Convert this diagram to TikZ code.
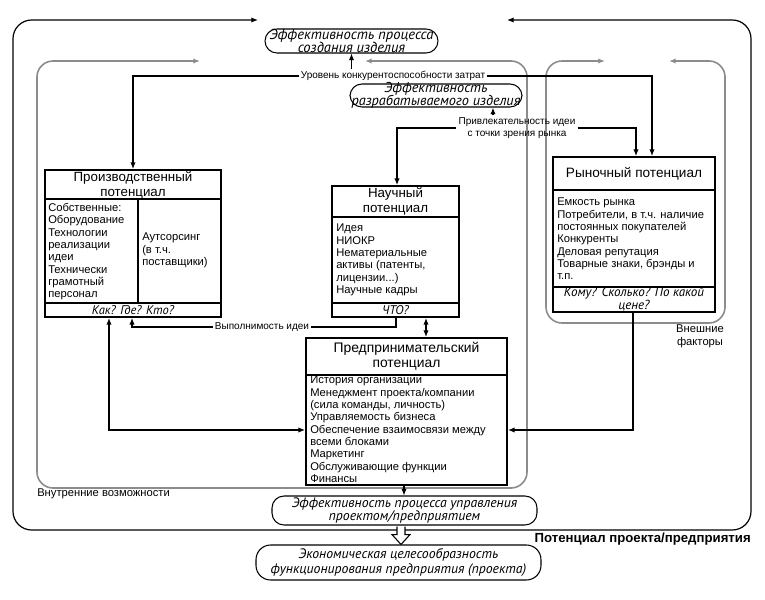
\documentclass[tikz,border=0pt]{standalone}
\usepackage{fontspec}
\setmainfont{Liberation Sans}
\newfontfamily\itf{PT Sans}
\usetikzlibrary{arrows.meta,fit,calc}
\begin{document}
\begin{tikzpicture}[x=0.75pt,y=-0.75pt,
  >={Latex[length=5pt,width=4pt]},
  frame/.style={line width=0.9pt, black, rounded corners=14pt},
  gframe/.style={line width=1.2pt, black!45, rounded corners=12pt},
  box/.style={draw, line width=1.4pt, inner sep=0pt},
  sep/.style={line width=1.2pt},
  hdr/.style={font=\fontsize{10}{11.4}\selectfont, align=center, inner sep=0pt},
  body/.style={font=\fontsize{8.4}{9.25}\selectfont, align=left, inner sep=0pt, anchor=north west},
  foot/.style={font=\itf\itshape\fontsize{9.4}{9.4}\selectfont, align=center, inner sep=0pt},
  lbl/.style={font=\fontsize{7.5}{9}\selectfont, align=center, inner sep=1.5pt},
  note/.style={font=\fontsize{8.4}{9.6}\selectfont, align=center, inner sep=0pt},
  ell/.style={draw, line width=0.8pt, rounded corners=9pt, inner sep=0pt},
  elltxt/.style={font=\itf\itshape\fontsize{10.3}{10}\selectfont, align=center, inner sep=0pt},
  con/.style={line width=1.3pt},
  thin/.style={line width=0.8pt}]
\useasboundingbox (0,0) rectangle (765,600);

% containers
\draw[frame,<->] (258,20) -- (13,20) -- (13,530) -- (751,530) -- (751,20) -- (507,20);
\draw[gframe,<->] (200,61) -- (37,61) -- (37,488) -- (527,488) -- (527,61) -- (365,61);
\draw[gframe,<->] (605,61) -- (546,61) -- (546,323) -- (725,323) -- (725,61) -- (669,61);

% ellipses
\node[ell, fit={(265,29)(438,53)}] (e1) {};
\node[elltxt, font=\itf\itshape\fontsize{10.9}{10}\selectfont] (e1t) at (e1.center) {Эффективность процесса\\создания изделия};
\node[ell, fit={(350,84)(522,107)}] (e2) {};
\node[elltxt, font=\itf\itshape\fontsize{10.7}{10}\selectfont] (e2t) at (e2.center) {Эффективность\\разрабатываемого изделия};
\node[ell, fit={(272,496)(537,525)}] (e3) {};
\node[elltxt] (e3t) at (e3.center) {Эффективность процесса управления\\проектом/предприятием};
\node[ell, rounded corners=11pt, fit={(256,545)(541,580)}] (e4) {};
\node[elltxt, font=\itf\itshape\fontsize{10.3}{11.5}\selectfont] (e4t) at (e4.center) {Экономическая целесообразность\\функционирования предприятия (проекта)};

% production box
\node[box, fit={(45,170)(221,317)}] (prod) {};
\draw[sep] (prod.west |- 0,199) -- (prod.east |- 0,199);
\draw[sep] (prod.west |- 0,303) -- (prod.east |- 0,303);
\draw[sep] (138,199) -- (138,303);
\node[hdr] (prodh) at (133,185) {Производственный\\потенциал};
\node[body] (prodl) at (48,203) {Собственные:\\Оборудование\\Технологии\\реализации\\идеи\\Технически\\грамотный\\персонал};
\node[body] (prodr) at (142,233) {Аутсорсинг\\(в т.ч.\\поставщики)};
\node[foot] (prodf) at (133,310.5) {Как? Где? Кто?};

% science box
\node[box, fit={(332,186)(459,317)}] (sci) {};
\draw[sep] (sci.west |- 0,217) -- (sci.east |- 0,217);
\draw[sep] (sci.west |- 0,303) -- (sci.east |- 0,303);
\node[hdr] (scih) at (395.5,201.5) {Научный\\потенциал};
\node[body] (scib) at (336,224) {Идея\\НИОКР\\Нематериальные\\активы (патенты,\\лицензии...)\\Научные кадры};
\node[foot] (scif) at (395.5,310.5) {ЧТО?};

% market box
\node[box, fit={(553,157)(715,312)}] (mkt) {};
\draw[sep] (mkt.west |- 0,190) -- (mkt.east |- 0,190);
\node[hdr, font=\fontsize{10.2}{12}\selectfont] (mkth) at (634,173.5) {Рыночный потенциал};
\node[body] (mktb) at (557,198) {Емкость рынка\\Потребители, в т.ч. наличие\\постоянных покупателей\\Конкуренты\\Деловая репутация\\Товарные знаки, брэнды и\\т.п.};
\node[foot, font=\itf\itshape\fontsize{9.8}{9.6}\selectfont] (mktf) at (634,299) {Кому? Сколько? По какой\\цене?};
\draw[line width=2.2pt] (mkt.west |- 0,287) -- (mkt.east |- 0,287);

% entrepreneurial box
\node[box, fit={(306,338)(507,485)}] (ent) {};
\draw[sep] (ent.west |- 0,375) -- (ent.east |- 0,375);
\node[hdr, font=\fontsize{10.4}{11.4}\selectfont] (enth) at (406.5,356.5) {Предпринимательский\\потенциал};
\node[body] (entb) at (310,376) {История организации\\Менеджмент проекта/компании\\(сила команды, личность)\\Управляемость бизнеса\\Обеспечение взаимосвязи между\\всеми блоками\\Маркетинг\\Обслуживающие функции\\Финансы};

% labels
\node[lbl] (lvl) at (393,76) {Уровень конкурентоспособности затрат};
\node[lbl] (attr) at (517,128) {Привлекательность идеи\\с точки зрения рынка};
\node[lbl] (vyp) at (262,327) {Выполнимость идеи};
\node[note, anchor=west] (vn) at (37,494) {Внутренние возможности};
\node[note] (ext) at (700,336) {Внешние\\факторы};
\node[font=\bfseries\fontsize{9.9}{12}\selectfont, anchor=east, inner sep=0pt] (pot) at (751,539) {Потенциал проекта/предприятия};

% connectors
\draw[con,<-] (prod.north -| 133,0) |- (lvl.west);
\draw[con,->] (lvl.east) -| (mkt.north -| 652,0);
\draw[thin,->] (lvl.north -| e1.south) -- (e1.south);
\draw[thin,<-] (sci.north -| 397,0) |- (attr.west);
\draw[thin,->] (attr.east) -| (mkt.north -| 636,0);
\draw[con,->] (attr.north -| 493,0) -- (e2.south -| 493,0);
\draw[thin] (sci.south -| 396,0) |- (vyp.east);
\draw[thin,->] (vyp.west) -| (prod.south -| 132,0);
\draw[con,<->] (sci.south -| 426,0) -- (ent.north -| 426,0);
\draw[con,<->] (prod.south -| 109,0) |- (ent.west |- 0,430);
\draw[con,->] (mkt.south -| 633,0) |- (ent.east |- 0,430);
\draw[thin,->] (ent.south -| 404,0) -- (e3.north -| 404,0);

% hollow arrow
\coordinate (ha) at (e3.south -| 401,0);
\coordinate (hb) at (e4.north -| 401,0);
\draw[line width=0.8pt, fill=white] ($(ha)+(-4,1)$) -- ($(ha)+(-4,9)$) -- ($(ha)+(-9,9)$) -- (hb) -- ($(ha)+(9,9)$) -- ($(ha)+(4,9)$) -- ($(ha)+(4,1)$);
\end{tikzpicture}
\end{document}
